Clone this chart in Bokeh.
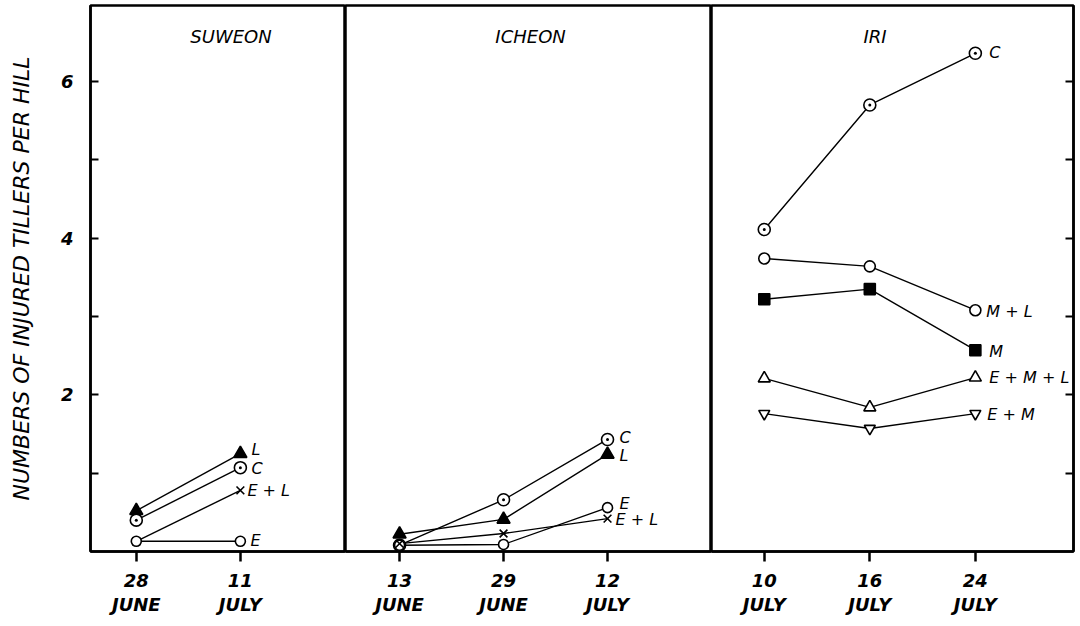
from bokeh.plotting import figure
from bokeh.layouts import row
from bokeh.models import Range1d, FixedTicker, LinearAxis, Label
from bokeh.embed import file_html
from bokeh.resources import INLINE
from bokeh.core.properties import value

# ---------------- data ----------------
y_label_ticks = [2, 4, 6]
y_minor_ticks = [1, 3, 5]
y_all_ticks = [1, 2, 3, 4, 5, 6]

suweon_days = ["28", "11"]
suweon_months = ["JUNE", "JULY"]
suweon_L = [0.52, 1.25]
suweon_C = [0.40, 1.07]
suweon_EL = [0.13, 0.78]
suweon_E = [0.13, 0.13]

icheon_days = ["13", "29", "12"]
icheon_months = ["JUNE", "JUNE", "JULY"]
icheon_C = [0.08, 0.66, 1.43]
icheon_L = [0.22, 0.41, 1.24]
icheon_E = [0.08, 0.09, 0.56]
icheon_EL = [0.10, 0.23, 0.42]

iri_days = ["10", "16", "24"]
iri_months = ["JULY", "JULY", "JULY"]
iri_C = [4.11, 5.70, 6.36]
iri_ML = [3.74, 3.64, 3.08]
iri_M = [3.22, 3.35, 2.57]
iri_EML = [2.21, 1.84, 2.22]
iri_EM = [1.76, 1.57, 1.76]

# ---------------- styles ----------------
FONT = "DejaVu Sans"
MARKERS = {
    "C": dict(marker="circle_dot", size=12, fill_color="white"),
    "L": dict(marker="triangle", size=13, fill_color="black"),
    "E + L": dict(marker="x", size=11, fill_color="white"),
    "E": dict(marker="circle", size=10, fill_color="white"),
    "M + L": dict(marker="circle", size=11, fill_color="white"),
    "M": dict(marker="square", size=11, fill_color="black"),
    "E + M + L": dict(marker="triangle", size=12, fill_color="white"),
    "E + M": dict(marker="inverted_triangle", size=11, fill_color="white"),
}

H = 620
TOP = 5
BOTTOM = 69


def make_panel(width, xr, days, months, series, title, title_x, label_offsets,
               yloc=None, mbl=0, mbr=0):
    p = figure(width=width, height=H, x_range=Range1d(*xr), y_range=Range1d(0, 6.97),
               output_backend="svg", toolbar_location=None,
               y_axis_location=yloc, min_border_left=mbl, min_border_right=mbr,
               min_border_top=TOP, min_border_bottom=BOTTOM)
    p.grid.visible = False
    p.outline_line_color = "black"
    p.outline_line_width = 2.5
    p.background_fill_color = "white"
    p.border_fill_color = "white"

    ticks = list(range(len(days)))
    ax = p.xaxis[0]
    ax.ticker = FixedTicker(ticks=ticks, minor_ticks=[])
    ax.major_label_overrides = {i: d for i, d in enumerate(days)}
    ax.major_tick_in = 0
    ax.major_tick_out = 10
    ax.major_tick_line_width = 2.5
    ax.axis_line_width = 2.5
    ax.major_label_standoff = 12
    ax.major_label_text_font = FONT
    ax.major_label_text_font_style = "bold italic"
    ax.major_label_text_font_size = "18px"
    ax.major_label_text_color = "black"

    ax2 = LinearAxis(ticker=FixedTicker(ticks=ticks, minor_ticks=[]))
    ax2.major_label_overrides = {i: m for i, m in enumerate(months)}
    ax2.major_tick_in = 0
    ax2.major_tick_out = 0
    ax2.axis_line_color = None
    ax2.major_tick_line_color = None
    ax2.minor_tick_line_color = None
    ax2.major_label_standoff = 4
    ax2.major_label_text_font = FONT
    ax2.major_label_text_font_style = "bold italic"
    ax2.major_label_text_font_size = "18px"
    ax2.major_label_text_color = "black"
    p.add_layout(ax2, "below")

    for name, ys in series:
        xs = list(range(len(ys)))
        p.line(xs, ys, line_color="black", line_width=1.4)
    for name, ys in series:
        xs = list(range(len(ys)))
        st = MARKERS[name]
        p.scatter(xs, ys, marker=st["marker"], size=st["size"],
                  fill_color=st["fill_color"], line_color="black", line_width=1.6)
    for name, ys in series:
        dx, dy = label_offsets.get(name, (12, 0))
        p.text([len(ys) - 1], [ys[-1]], text=[name], x_offset=dx, y_offset=dy,
               text_font=value(FONT), text_font_style="italic",
               text_font_size="16px", text_baseline="middle", text_align="left",
               text_color="black")

    p.add_layout(Label(x=title_x, y=6.58, text=title, text_align="center",
                       text_baseline="middle", text_font=FONT,
                       text_font_style="italic", text_font_size="18px",
                       text_color="black"))
    return p


p1 = make_panel(345, (-0.44, 2.01), suweon_days, suweon_months,
                [("L", suweon_L), ("C", suweon_C), ("E + L", suweon_EL), ("E", suweon_E)],
                "SUWEON", 0.91,
                {"L": (11, -4), "C": (11, 1), "E + L": (7, 0), "E": (10, -1)},
                yloc="left", mbl=90)
ya = p1.yaxis[0]
ya.ticker = FixedTicker(ticks=y_label_ticks, minor_ticks=y_minor_ticks)
ya.major_tick_in = 8
ya.major_tick_out = 0
ya.minor_tick_in = 8
ya.minor_tick_out = 0
ya.major_tick_line_width = 2
ya.minor_tick_line_width = 2
ya.minor_tick_line_color = "black"
ya.axis_line_width = 2.5
ya.major_label_standoff = 17
ya.major_label_text_font = FONT
ya.major_label_text_font_style = "bold italic"
ya.major_label_text_font_size = "18px"
ya.major_label_text_color = "black"
ya.major_label_orientation = "horizontal"
ya.axis_label = "NUMBERS OF INJURED TILLERS PER HILL"
ya.axis_label_text_font = FONT
ya.axis_label_text_font_style = "italic"
ya.axis_label_text_font_size = "22px"
ya.axis_label_text_color = "black"
ya.axis_label_standoff = 24

p2 = make_panel(366, (-0.52, 3.0), icheon_days, icheon_months,
                [("C", icheon_C), ("L", icheon_L), ("E", icheon_E), ("E + L", icheon_EL)],
                "ICHEON", 1.26,
                {"C": (12, -2), "L": (12, 1), "E": (12, -4), "E + L": (8, 1)})

p3 = make_panel(365, (-0.5, 2.93), iri_days, iri_months,
                [("C", iri_C), ("M + L", iri_ML), ("M", iri_M),
                 ("E + M + L", iri_EML), ("E + M", iri_EM)],
                "IRI", 1.05,
                {"C": (14, -1), "M + L": (11, 1), "M": (14, 1),
                 "E + M + L": (14, 0), "E + M": (12, 1)},
                yloc="right", mbr=3)
ra = p3.yaxis[0]
ra.ticker = FixedTicker(ticks=y_all_ticks, minor_ticks=[])
ra.major_tick_in = 8
ra.major_tick_out = 0
ra.major_tick_line_width = 2
ra.axis_line_width = 2.5
ra.major_label_standoff = 0
ra.major_label_overrides = {t: "" for t in y_all_ticks}
ra.major_label_text_font_size = "0px"

layout = row(p1, p2, p3)
open("out.html", "w").write(file_html(layout, INLINE))
